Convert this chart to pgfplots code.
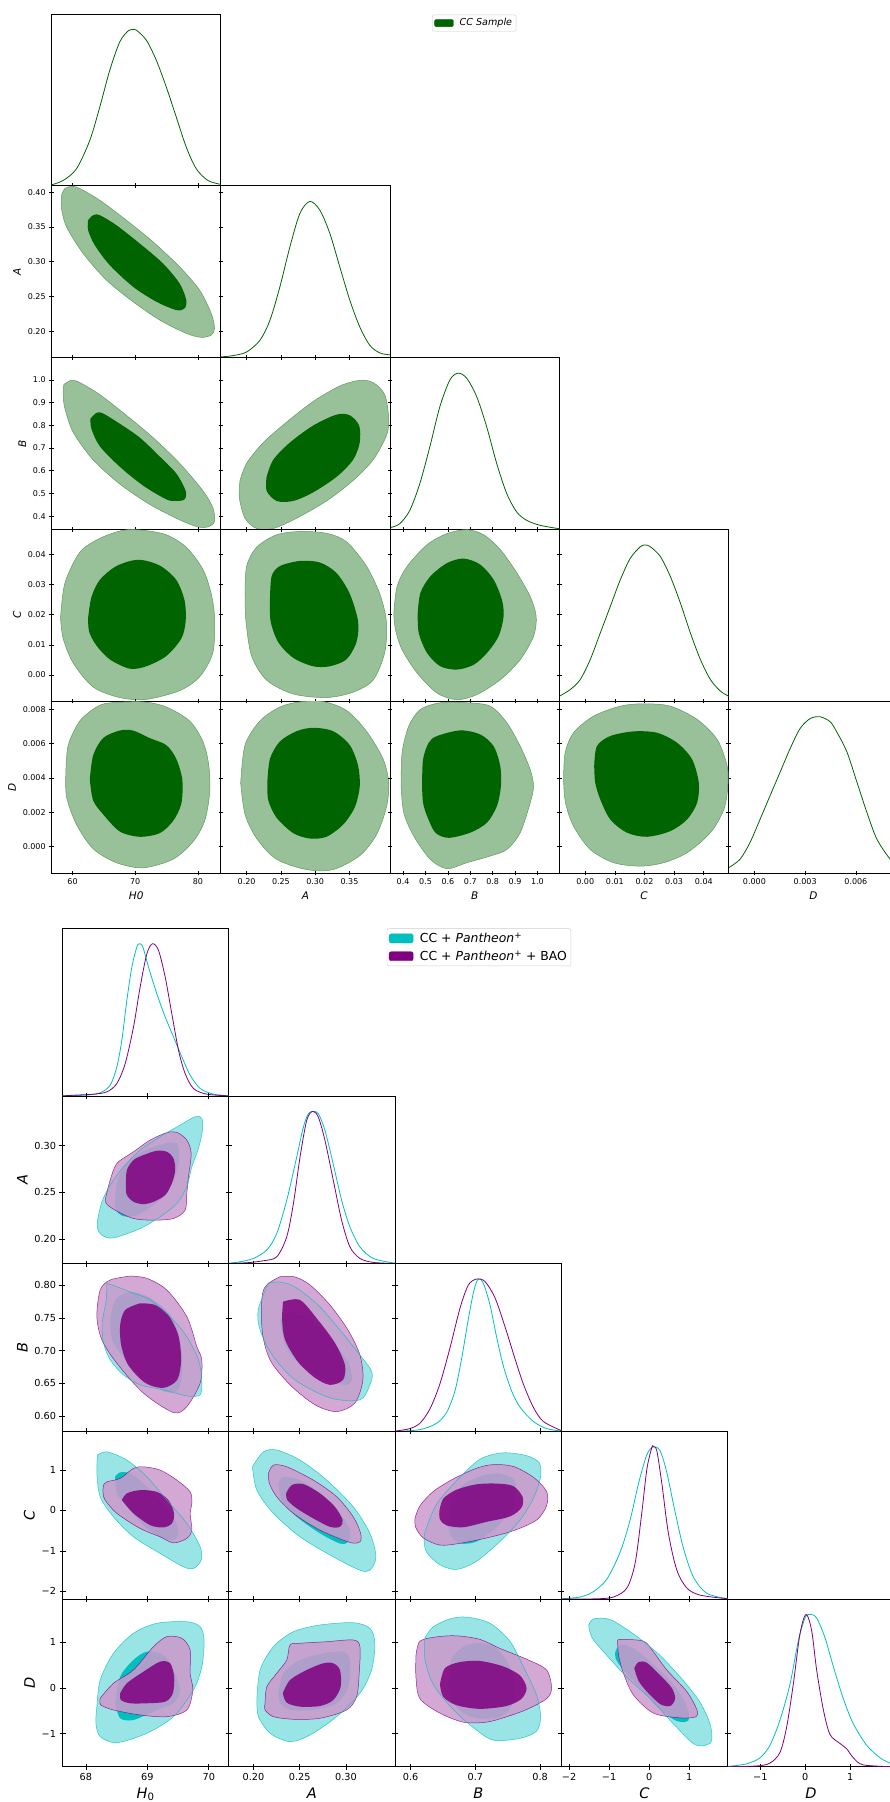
\documentclass[border=0pt]{standalone}
\usepackage{fontspec}
\setmainfont{DejaVu Sans}
\usepackage{pgfplots}
\pgfplotsset{compat=1.18}

\definecolor{gdark}{RGB}{0,100,0}
\definecolor{glight}{RGB}{153,193,153}
\definecolor{gedge}{RGB}{95,155,95}
\definecolor{cdark}{RGB}{0,191,191}
\definecolor{clight}{RGB}{153,229,229}
\definecolor{pdark}{RGB}{128,0,128}
\definecolor{plight}{RGB}{204,153,204}

% two-level filled contours of the single sample
\newcommand{\gcont}[2]{%
  \addplot[fill=glight, draw=gedge, line width=0.5pt, smooth] coordinates {#1} -- cycle;
  \addplot[fill=gdark, draw=none, smooth] coordinates {#2} -- cycle;}
% cyan outer, cyan inner, purple outer, purple inner
\newcommand{\pcont}[4]{%
  \addplot[fill=clight, draw=none, smooth] coordinates {#1} -- cycle;
  \addplot[fill=cdark, draw=none, smooth] coordinates {#2} -- cycle;
  \addplot[fill=plight, fill opacity=0.85, draw=pdark, draw opacity=0.8, line width=0.5pt, smooth] coordinates {#3} -- cycle;
  \addplot[fill=pdark, fill opacity=0.85, draw=none, smooth] coordinates {#4} -- cycle;
  \addplot[draw=cdark, draw opacity=0.8, line width=0.5pt, smooth] coordinates {#1} -- cycle;}

\pgfplotsset{
  panel/.style={scale only axis, anchor=north west, tick align=center,
    axis line style={line width=0.8pt, black}, tick style={black, line width=0.7pt},
    no markers, scaled ticks=false, xticklabels={}, yticklabels={}, clip=true},
  tp/.style={panel, width=169.3pt, height=171.8pt, major tick length=4.6pt,
    tick label style={font=\fontsize{8}{9.6}\selectfont},
    label style={font=\fontsize{10.5}{12.6}\selectfont\itshape}},
  bp/.style={panel, width=166.3pt, height=167.65pt, major tick length=6pt,
    tick label style={font=\fontsize{9.7}{11.6}\selectfont},
    label style={font=\fontsize{14.5}{17}\selectfont\itshape}},
  onedim/.style={ymin=0, ymax=1.1, ytick=\empty, xtick pos=left},
  % upper triangle parameters
  txH/.style={xmin=56.65, xmax=83.65, xtick={60,70,80}},
  txHl/.style={txH, xticklabels={60,70,80}, xlabel={H0}},
  txA/.style={xmin=0.1623, xmax=0.4093, xtick={0.20,0.25,0.30,0.35}},
  txAl/.style={txA, xticklabels={0.20,0.25,0.30,0.35}, xlabel={A}},
  tyA/.style={ymin=0.1623, ymax=0.4093, ytick={0.20,0.25,0.30,0.35,0.40}},
  tyAl/.style={tyA, yticklabels={0.20,0.25,0.30,0.35,0.40}, ylabel={A}},
  txB/.style={xmin=0.342, xmax=1.098, xtick={0.4,0.5,0.6,0.7,0.8,0.9,1.0}},
  txBl/.style={txB, xticklabels={0.4,0.5,0.6,0.7,0.8,0.9,1.0}, xlabel={B}},
  tyB/.style={ymin=0.342, ymax=1.098, ytick={0.4,0.5,0.6,0.7,0.8,0.9,1.0}},
  tyBl/.style={tyB, yticklabels={0.4,0.5,0.6,0.7,0.8,0.9,1.0}, ylabel={B}},
  txC/.style={xmin=-0.0087, xmax=0.0484, xtick={0,0.01,0.02,0.03,0.04}},
  txCl/.style={txC, xticklabels={0.00,0.01,0.02,0.03,0.04}, xlabel={C}},
  tyC/.style={ymin=-0.0087, ymax=0.0484, ytick={0,0.01,0.02,0.03,0.04}},
  tyCl/.style={tyC, yticklabels={0.00,0.01,0.02,0.03,0.04}, ylabel={C}},
  txD/.style={xmin=-0.00152, xmax=0.00849, xtick={0,0.003,0.006}},
  txDl/.style={txD, xticklabels={0.000,0.003,0.006}, xlabel={D}},
  tyD/.style={ymin=-0.00153, ymax=0.00848, ytick={0,0.002,0.004,0.006,0.008}},
  tyDl/.style={tyD, yticklabels={0.000,0.002,0.004,0.006,0.008}, ylabel={D}},
  % lower triangle parameters
  bxH/.style={xmin=67.62, xmax=70.325, xtick={68,69,70}},
  bxHl/.style={bxH, xticklabels={68,69,70}, xlabel={H\textsubscript{\upshape 0}}},
  bxA/.style={xmin=0.1734, xmax=0.3531, xtick={0.20,0.25,0.30}},
  bxAl/.style={bxA, xticklabels={0.20,0.25,0.30}, xlabel={A}},
  byA/.style={ymin=0.1733, ymax=0.3532, ytick={0.20,0.25,0.30}},
  byAl/.style={byA, yticklabels={0.20,0.25,0.30}, ylabel={A}},
  bxB/.style={xmin=0.576, xmax=0.833, xtick={0.6,0.7,0.8}},
  bxBl/.style={bxB, xticklabels={0.6,0.7,0.8}, xlabel={B}},
  byB/.style={ymin=0.5763, ymax=0.8329, ytick={0.60,0.65,0.70,0.75,0.80}},
  byBl/.style={byB, yticklabels={0.60,0.65,0.70,0.75,0.80}, ylabel={B}},
  bxC/.style={xmin=-2.19, xmax=1.958, xtick={-2,-1,0,1}},
  bxCl/.style={bxC, xticklabels={−2,−1,0,1}, xlabel={C}},
  byC/.style={ymin=-2.193, ymax=1.953, ytick={-2,-1,0,1}},
  byCl/.style={byC, yticklabels={−2,−1,0,1}, ylabel={C}},
  bxD/.style={xmin=-1.724, xmax=1.971, xtick={-1,0,1}},
  bxDl/.style={bxD, xticklabels={−1,0,1}, xlabel={D}},
  byD/.style={ymin=-1.724, ymax=1.945, ytick={-1,0,1}},
  byDl/.style={byD, yticklabels={−1,0,1}, ylabel={D}},
}

\begin{document}
\begin{tikzpicture}
\useasboundingbox (0pt,0pt) rectangle (890pt,1802pt);
\clip (0pt,0pt) rectangle (890pt,1802pt);

%================ CC sample: one-dimensional marginals
\begin{axis}[tp, onedim, txH, at={(51.5pt,1788pt)},
  legend style={at={(2.248,0.996)}, anchor=north west, draw=black!20, rounded corners=2pt,
    font=\fontsize{9.6}{11.5}\selectfont\itshape, inner xsep=2pt, inner ysep=1.8pt},
  legend cell align=left,
  legend style={/tikz/every odd column/.append style={column sep=4pt}}]
\addplot[gdark, line width=0.8pt, smooth, forget plot] coordinates {(56.65,0.006) (58.51,0.034) (60.64,0.109) (62.76,0.291) (64.35,0.504) (65.94,0.739) (67.53,0.921) (68.86,0.991) (69.55,1.0) (70.19,0.996) (71.78,0.932) (73.37,0.803) (74.96,0.632) (76.55,0.440) (78.14,0.248) (79.73,0.109) (81.59,0.034) (83.65,0.009)};
\addlegendimage{legend image code/.code={\fill[gdark] (0pt,-3.6pt) rectangle (19pt,3.6pt);}}
\addlegendentry{CC Sample}
\end{axis}

\begin{axis}[tp, onedim, txA, at={(220.8pt,1616.2pt)}]
\addplot[gdark, line width=0.8pt, smooth] coordinates {(0.1623,0.004) (0.1806,0.013) (0.20,0.036) (0.2194,0.111) (0.234,0.239) (0.2485,0.453) (0.2631,0.709) (0.2777,0.923) (0.2922,1.0) (0.3068,0.944) (0.3214,0.795) (0.3359,0.581) (0.3505,0.368) (0.3650,0.197) (0.3796,0.079) (0.3942,0.030) (0.4093,0.017)};
\end{axis}

\begin{axis}[tp, onedim, txB, at={(390.1pt,1444.4pt)}]
\addplot[gdark, line width=0.8pt, smooth] coordinates {(0.342,0.011) (0.385,0.036) (0.430,0.122) (0.4747,0.293) (0.5195,0.529) (0.5643,0.786) (0.609,0.957) (0.646,1.0) (0.684,0.968) (0.7286,0.850) (0.7733,0.657) (0.818,0.422) (0.863,0.229) (0.9076,0.111) (0.952,0.058) (1.012,0.026) (1.098,0.004)};
\end{axis}

\begin{axis}[tp, onedim, txC, at={(559.4pt,1272.6pt)}]
\addplot[gdark, line width=0.8pt, smooth] coordinates {(-0.0087,0.032) (-0.00507,0.074) (-0.00169,0.138) (0.00169,0.266) (0.00507,0.436) (0.00845,0.606) (0.01183,0.777) (0.01521,0.915) (0.01859,0.989) (0.02028,1.0) (0.02197,0.989) (0.02535,0.926) (0.02873,0.798) (0.03211,0.628) (0.03549,0.436) (0.03887,0.266) (0.04225,0.138) (0.04563,0.064) (0.0484,0.032)};
\end{axis}

\begin{axis}[tp, onedim, txDl, at={(728.7pt,1100.8pt)}]
\addplot[gdark, line width=0.8pt, smooth] coordinates {(-0.00152,0.034) (-0.00085,0.088) (-0.00026,0.195) (0.00034,0.345) (0.00093,0.496) (0.00152,0.646) (0.00211,0.796) (0.0027,0.925) (0.0033,0.989) (0.00389,1.0) (0.00448,0.968) (0.00487,0.903) (0.00547,0.775) (0.00606,0.582) (0.00665,0.388) (0.00724,0.217) (0.00803,0.088) (0.0085,0.05)};
\end{axis}

%================ CC sample: joint contours
\begin{axis}[tp, txH, tyAl, at={(51.5pt,1616.2pt)}]
\gcont{(58.25,0.3957) (58.78,0.4053) (59.84,0.4086) (61.17,0.4053) (64.35,0.3885) (68.59,0.3598) (72.84,0.3287) (77.08,0.2928) (80.27,0.2593) (82.12,0.2258) (82.65,0.2043) (82.12,0.1947) (80.53,0.1914) (78.14,0.1971) (73.90,0.2163) (69.66,0.2426) (65.41,0.2737) (61.70,0.3120) (59.05,0.3502) (58.25,0.3766) (58.25,0.3957)}
{(62.49,0.3598) (63.29,0.3670) (64.35,0.3670) (67.0,0.3526) (70.72,0.3263) (74.43,0.2976) (77.08,0.2689) (78.14,0.2450) (77.88,0.2330) (76.55,0.2306) (73.37,0.2426) (69.66,0.2641) (65.94,0.2952) (63.55,0.3239) (62.49,0.3455) (62.49,0.3598)}
\end{axis}

\begin{axis}[tp, txH, tyBl, at={(51.5pt,1444.4pt)}]
\gcont{(58.62,0.980) (59.84,0.998) (61.17,0.988) (64.35,0.935) (68.59,0.844) (72.84,0.746) (77.08,0.633) (80.80,0.512) (82.39,0.437) (82.65,0.376) (81.59,0.353) (80.0,0.353) (77.08,0.384) (72.31,0.452) (67.53,0.542) (63.29,0.648) (60.11,0.769) (58.78,0.875) (58.51,0.935) (58.62,0.980)}
{(62.86,0.829) (63.82,0.855) (64.88,0.852) (67.53,0.807) (70.72,0.746) (73.90,0.663) (76.55,0.588) (78.04,0.512) (77.88,0.474) (76.55,0.467) (74.96,0.474) (71.25,0.535) (67.53,0.618) (64.35,0.708) (63.02,0.784) (62.86,0.829)}
\end{axis}

\begin{axis}[tp, txA, tyB, at={(220.8pt,1444.4pt)}]
\gcont{(0.1903,0.557) (0.20,0.633) (0.2243,0.724) (0.2583,0.814) (0.2971,0.905) (0.3359,0.973) (0.3650,0.998) (0.3845,0.988) (0.4015,0.935) (0.4073,0.829) (0.4039,0.754) (0.3845,0.648) (0.3553,0.557) (0.3165,0.467) (0.2728,0.391) (0.2388,0.346) (0.2146,0.346) (0.1976,0.391) (0.1893,0.482) (0.1903,0.557)}
{(0.2291,0.573) (0.2388,0.648) (0.2631,0.724) (0.2971,0.799) (0.3311,0.847) (0.3505,0.844) (0.3641,0.799) (0.3650,0.724) (0.3553,0.648) (0.3311,0.573) (0.2971,0.505) (0.2680,0.467) (0.2437,0.467) (0.2291,0.512) (0.2291,0.573)}
\end{axis}

\begin{axis}[tp, txH, tyCl, at={(51.5pt,1272.6pt)}]
\gcont{(58.09,0.0190) (58.78,0.0305) (61.17,0.0408) (64.35,0.0454) (68.06,0.0481) (71.25,0.0481) (74.96,0.0466) (78.14,0.0425) (80.80,0.0351) (82.12,0.0270) (82.65,0.0190) (82.39,0.0075) (80.27,-0.0006) (77.08,-0.0052) (71.78,-0.0081) (67.53,-0.0075) (63.29,-0.0040) (60.11,0.0040) (58.51,0.0121) (58.09,0.0190)}
{(62.49,0.0190) (63.02,0.0259) (64.35,0.0316) (67.0,0.0362) (70.45,0.0383) (73.90,0.0364) (76.55,0.0316) (77.88,0.0247) (78.04,0.0178) (77.35,0.0121) (74.96,0.0063) (71.78,0.0029) (69.12,0.0021) (65.94,0.0052) (63.82,0.0098) (62.65,0.0144) (62.49,0.0190)}
\end{axis}

\begin{axis}[tp, txA, tyC, at={(220.8pt,1272.6pt)}]
\gcont{(0.1976,0.0270) (0.20,0.0362) (0.2146,0.0425) (0.2437,0.0466) (0.2777,0.0477) (0.3165,0.0471) (0.3456,0.0443) (0.3748,0.0362) (0.3942,0.0270) (0.4039,0.0178) (0.4015,0.0075) (0.3845,-0.0017) (0.3553,-0.0057) (0.3165,-0.0075) (0.2680,-0.0063) (0.2291,-0.0017) (0.2073,0.0063) (0.1990,0.0178) (0.1976,0.0270)}
{(0.2340,0.0247) (0.2364,0.0328) (0.2485,0.0362) (0.2777,0.0379) (0.3068,0.0374) (0.3311,0.0339) (0.3505,0.0270) (0.3626,0.0178) (0.3602,0.0109) (0.3456,0.0052) (0.3214,0.0029) (0.2971,0.0029) (0.2680,0.0057) (0.2461,0.0109) (0.2350,0.0178) (0.2340,0.0247)}
\end{axis}

\begin{axis}[tp, txB, tyC, at={(390.1pt,1272.6pt)}]
\gcont{(0.3584,0.0206) (0.3733,0.0295) (0.4178,0.0361) (0.5070,0.0433) (0.5961,0.0470) (0.6853,0.0483) (0.7596,0.0466) (0.8339,0.0417) (0.9082,0.0339) (0.9676,0.0261) (0.9944,0.0195) (0.9825,0.0129) (0.9230,0.0051) (0.8339,-0.0016) (0.7299,-0.0065) (0.6407,-0.0082) (0.5516,-0.0060) (0.4624,0.0007) (0.3955,0.0084) (0.3658,0.0151) (0.3584,0.0206)}
{(0.4654,0.0206) (0.4773,0.0273) (0.5218,0.0328) (0.5961,0.0372) (0.6704,0.0387) (0.7447,0.0367) (0.8042,0.0317) (0.8413,0.0250) (0.8487,0.0195) (0.8265,0.0129) (0.7744,0.0073) (0.7150,0.0034) (0.6407,0.0018) (0.5664,0.0029) (0.5070,0.0073) (0.4698,0.0140) (0.4654,0.0206)}
\end{axis}

\begin{axis}[tp, txHl, tyDl, at={(51.5pt,1100.8pt)}]
\gcont{(58.94,0.00431) (59.31,0.00592) (61.17,0.00733) (63.82,0.00814) (65.94,0.00838) (71.25,0.00844) (74.96,0.00814) (78.67,0.00733) (80.80,0.00613) (81.75,0.00472) (81.86,0.00310) (81.06,0.00149) (79.20,0.00028) (76.02,-0.00073) (71.25,-0.00123) (67.0,-0.00093) (63.29,-0.00012) (60.64,0.00129) (59.05,0.00290) (58.94,0.00431)}
{(62.76,0.00391) (63.29,0.00532) (64.88,0.00633) (67.53,0.00677) (69.66,0.00677) (72.31,0.00633) (74.96,0.00592) (76.55,0.00512) (77.51,0.00391) (77.35,0.00250) (76.02,0.00149) (73.90,0.00079) (70.72,0.00058) (67.53,0.00089) (64.88,0.00189) (63.29,0.00270) (62.76,0.00391)}
\end{axis}

\begin{axis}[tp, txAl, tyD, at={(220.8pt,1100.8pt)}]
\gcont{(0.1913,0.00371) (0.1976,0.00592) (0.2194,0.00733) (0.2485,0.00814) (0.2777,0.00844) (0.3117,0.00846) (0.3456,0.00794) (0.3748,0.00673) (0.3990,0.00512) (0.4073,0.00371) (0.4039,0.00230) (0.3893,0.00069) (0.3650,-0.00052) (0.3262,-0.00133) (0.2874,-0.00133) (0.2437,-0.00073) (0.2146,0.00048) (0.1976,0.00189) (0.1913,0.00371)}
{(0.2301,0.00371) (0.2340,0.00512) (0.2485,0.00613) (0.2728,0.00673) (0.2971,0.00693) (0.3262,0.00673) (0.3505,0.00592) (0.3626,0.00472) (0.3650,0.00351) (0.3578,0.00230) (0.3408,0.00129) (0.3165,0.00058) (0.2922,0.00048) (0.2680,0.00079) (0.2437,0.00169) (0.2316,0.00270) (0.2301,0.00371)}
\end{axis}

\begin{axis}[tp, txBl, tyD, at={(390.1pt,1100.8pt)}]
\gcont{(0.3911,0.00353) (0.3955,0.00548) (0.4253,0.00703) (0.4773,0.00800) (0.5664,0.00839) (0.6853,0.00839) (0.7893,0.00819) (0.8636,0.00722) (0.9230,0.00586) (0.9676,0.00450) (0.9825,0.00353) (0.9676,0.00256) (0.9230,0.00082) (0.8636,-0.00016) (0.7893,-0.00054) (0.6853,-0.00093) (0.5961,-0.00128) (0.5218,-0.00074) (0.4475,0.00062) (0.4030,0.00198) (0.3911,0.00353)}
{(0.4847,0.00353) (0.4892,0.00509) (0.5144,0.00606) (0.5516,0.00645) (0.6556,0.00678) (0.7447,0.00654) (0.8042,0.00586) (0.8339,0.00470) (0.8369,0.00353) (0.8190,0.00237) (0.7744,0.00140) (0.7001,0.00082) (0.6036,0.00052) (0.5441,0.00082) (0.5070,0.00179) (0.4892,0.00256) (0.4847,0.00353)}
\end{axis}

\begin{axis}[tp, txCl, tyD, at={(559.4pt,1100.8pt)}]
\gcont{(-0.00732,0.00392) (-0.00676,0.00548) (-0.00394,0.00664) (0.00282,0.00761) (0.01183,0.00819) (0.01972,0.00833) (0.02873,0.00819) (0.03775,0.00742) (0.04451,0.00625) (0.04789,0.00470) (0.04811,0.00353) (0.04676,0.00217) (0.04225,0.00082) (0.03437,-0.00035) (0.02648,-0.00093) (0.01859,-0.00113) (0.00958,-0.00093) (0.00169,-0.00016) (-0.00394,0.00120) (-0.00665,0.00256) (-0.00732,0.00392)}
{(0.00304,0.00470) (0.00394,0.00586) (0.00845,0.00645) (0.01634,0.00672) (0.02423,0.00664) (0.03099,0.00606) (0.03606,0.00509) (0.03831,0.00373) (0.03775,0.00256) (0.03437,0.00159) (0.02873,0.00091) (0.02085,0.00058) (0.01408,0.00082) (0.00845,0.00159) (0.00507,0.00276) (0.00338,0.00373) (0.00304,0.00470)}
\end{axis}

%================ combined data sets: one-dimensional marginals
\begin{axis}[bp, onedim, bxH, at={(62.5pt,873.5pt)},
  legend style={at={(1.95,1.0)}, anchor=north west, draw=black!20, rounded corners=2pt,
    font=\fontsize{12.4}{14.8}\selectfont, inner xsep=2pt, inner ysep=2pt, row sep=2.6pt},
  legend cell align=left,
  legend style={/tikz/every odd column/.append style={column sep=4.6pt}}]
\addplot[cdark, line width=0.8pt, smooth, forget plot] coordinates {(67.62,0.002) (68.016,0.007) (68.233,0.022) (68.396,0.072) (68.504,0.192) (68.585,0.367) (68.667,0.629) (68.748,0.847) (68.829,0.978) (68.873,1.0) (68.927,0.978) (69.019,0.847) (69.154,0.672) (69.290,0.520) (69.425,0.389) (69.561,0.258) (69.696,0.138) (69.859,0.050) (70.076,0.013) (70.325,0.002)};
\addplot[pdark, line width=0.8pt, smooth, forget plot] coordinates {(67.62,0.002) (67.854,0.007) (68.125,0.013) (68.341,0.028) (68.504,0.083) (68.640,0.214) (68.775,0.454) (68.883,0.716) (68.992,0.934) (69.084,1.0) (69.182,0.956) (69.290,0.782) (69.398,0.541) (69.507,0.301) (69.615,0.148) (69.751,0.050) (69.967,0.013) (70.325,0.002)};
\addlegendimage{legend image code/.code={\fill[cdark] (0pt,-4.5pt) rectangle (24pt,4.5pt);}}
\addlegendentry{CC + \textit{Pantheon}\textsuperscript{+}}
\addlegendimage{legend image code/.code={\fill[pdark] (0pt,-4.5pt) rectangle (24pt,4.5pt);}}
\addlegendentry{CC + \textit{Pantheon}\textsuperscript{+}\ + BAO}
\end{axis}

\begin{axis}[bp, onedim, bxA, at={(228.8pt,705.85pt)}]
\addplot[cdark, line width=0.8pt, smooth] coordinates {(0.1734,0.004) (0.1856,0.013) (0.20,0.035) (0.2144,0.090) (0.2252,0.199) (0.2360,0.417) (0.2468,0.701) (0.2540,0.897) (0.2594,0.985) (0.2647,1.0) (0.2701,0.985) (0.2773,0.876) (0.2863,0.653) (0.2953,0.417) (0.3043,0.242) (0.3151,0.111) (0.3295,0.035) (0.3531,0.004)};
\addplot[pdark, line width=0.8pt, smooth] coordinates {(0.1734,0.002) (0.1928,0.007) (0.2108,0.020) (0.2252,0.046) (0.2360,0.177) (0.2432,0.395) (0.2504,0.701) (0.2576,0.941) (0.2640,1.0) (0.2701,0.963) (0.2773,0.810) (0.2863,0.548) (0.2953,0.286) (0.3043,0.111) (0.3151,0.035) (0.3295,0.009) (0.3531,0.002)};
\end{axis}

\begin{axis}[bp, onedim, bxB, at={(395.1pt,538.2pt)}]
\addplot[cdark, line width=0.8pt, smooth] coordinates {(0.576,0.0) (0.6144,0.012) (0.6402,0.054) (0.6556,0.125) (0.6685,0.266) (0.6788,0.478) (0.6891,0.736) (0.6978,0.925) (0.7045,1.0) (0.7123,0.972) (0.7226,0.831) (0.7329,0.619) (0.7432,0.431) (0.7560,0.266) (0.7689,0.160) (0.7895,0.066) (0.8101,0.019) (0.833,0.002)};
\addplot[pdark, line width=0.8pt, smooth] coordinates {(0.576,0.002) (0.5990,0.019) (0.6144,0.054) (0.6299,0.148) (0.6453,0.313) (0.6608,0.548) (0.6762,0.807) (0.6891,0.960) (0.7020,1.0) (0.7148,0.984) (0.7303,0.878) (0.7457,0.689) (0.7612,0.478) (0.7740,0.313) (0.7895,0.160) (0.8049,0.066) (0.833,0.005)};
\end{axis}

\begin{axis}[bp, onedim, bxC, at={(561.4pt,370.55pt)}]
\addplot[cdark, line width=0.8pt, smooth] coordinates {(-2.19,0.002) (-1.718,0.014) (-1.386,0.050) (-1.054,0.132) (-0.722,0.310) (-0.473,0.522) (-0.266,0.759) (-0.058,0.948) (0.108,1.0) (0.274,0.972) (0.440,0.830) (0.647,0.570) (0.855,0.333) (1.104,0.144) (1.436,0.038) (1.958,0.002)};
\addplot[pdark, line width=0.8pt, smooth] coordinates {(-2.19,0.0) (-1.303,0.002) (-0.888,0.014) (-0.556,0.073) (-0.349,0.239) (-0.183,0.570) (-0.058,0.853) (0.066,0.995) (0.108,1.0) (0.191,0.972) (0.315,0.759) (0.481,0.428) (0.689,0.191) (0.938,0.073) (1.270,0.026) (1.958,0.002)};
\end{axis}

\begin{axis}[bp, onedim, bxDl, at={(727.7pt,202.9pt)}]
\addplot[cdark, line width=0.8pt, smooth] coordinates {(-1.724,0.002) (-1.304,0.019) (-1.007,0.059) (-0.785,0.141) (-0.563,0.306) (-0.341,0.541) (-0.156,0.824) (-0.007,0.976) (0.104,1.0) (0.252,0.976) (0.437,0.847) (0.622,0.659) (0.844,0.447) (1.067,0.282) (1.363,0.141) (1.659,0.059) (1.881,0.024) (1.971,0.015)};
\addplot[pdark, line width=0.8pt, smooth] coordinates {(-1.724,0.0) (-1.081,0.005) (-0.785,0.024) (-0.563,0.094) (-0.415,0.259) (-0.267,0.541) (-0.119,0.871) (0.015,1.0) (0.141,0.894) (0.252,0.635) (0.4,0.376) (0.548,0.212) (0.770,0.153) (0.919,0.118) (1.067,0.059) (1.289,0.012) (1.971,0.0)};
\end{axis}

%================ combined data sets: joint contours
\begin{axis}[bp, bxH, byAl, at={(62.5pt,705.85pt)}]
\pcont{(68.190,0.2201) (68.260,0.2398) (68.396,0.2577) (68.612,0.2774) (68.883,0.2953) (69.209,0.3097) (69.534,0.3222) (69.778,0.3312) (69.886,0.3294) (69.897,0.3168) (69.832,0.2971) (69.724,0.2774) (69.642,0.2559) (69.480,0.2380) (69.209,0.2237) (68.883,0.2111) (68.450,0.2011) (68.260,0.2039) (68.190,0.2111) (68.190,0.2201)}
{(68.477,0.2416) (68.504,0.2595) (68.612,0.2774) (68.829,0.2900) (69.100,0.2989) (69.371,0.3036) (69.496,0.3007) (69.518,0.2864) (69.453,0.2667) (69.317,0.2487) (69.100,0.2362) (68.829,0.2254) (68.612,0.2244) (68.493,0.2308) (68.477,0.2416)}
{(68.325,0.2452) (68.396,0.2631) (68.504,0.2810) (68.775,0.2935) (69.046,0.3061) (69.317,0.3140) (69.480,0.3143) (69.642,0.3061) (69.713,0.2918) (69.669,0.2667) (69.642,0.2487) (69.615,0.2308) (69.425,0.2219) (69.100,0.2201) (68.775,0.2219) (68.477,0.2308) (68.331,0.2380) (68.325,0.2452)}
{(68.650,0.2559) (68.667,0.2738) (68.775,0.2846) (68.938,0.2900) (69.154,0.2946) (69.317,0.2935) (69.425,0.2864) (69.453,0.2738) (69.398,0.2595) (69.290,0.2470) (69.100,0.2398) (68.938,0.2373) (68.775,0.2398) (68.667,0.2470) (68.650,0.2559)}
\end{axis}

\begin{axis}[bp, bxH, byBl, at={(62.5pt,538.2pt)}]
\pcont{(68.342,0.8031) (68.504,0.7979) (68.775,0.7878) (69.046,0.7775) (69.371,0.7520) (69.643,0.7214) (69.832,0.6858) (69.886,0.6552) (69.859,0.6323) (69.643,0.6307) (69.263,0.6399) (68.883,0.6476) (68.612,0.6628) (68.396,0.6858) (68.287,0.7118) (68.266,0.7424) (68.331,0.7775) (68.342,0.8031)}
{(68.396,0.7469) (68.477,0.7775) (68.721,0.7898) (69.046,0.7806) (69.371,0.7546) (69.534,0.7164) (69.567,0.6705) (69.502,0.6399) (69.290,0.6369) (68.965,0.6552) (68.640,0.6858) (68.428,0.7164) (68.396,0.7469)}
{(68.721,0.8142) (68.992,0.8107) (69.317,0.7928) (69.643,0.7520) (69.805,0.7061) (69.886,0.6858) (69.859,0.6502) (69.643,0.6144) (69.425,0.6052) (68.937,0.6349) (68.504,0.6807) (68.261,0.7164) (68.179,0.7520) (68.233,0.7928) (68.396,0.8081) (68.721,0.8142)}
{(68.883,0.7725) (68.640,0.7622) (68.558,0.7393) (68.574,0.7087) (68.688,0.6781) (68.965,0.6506) (69.258,0.6430) (69.485,0.6552) (69.550,0.6858) (69.502,0.7240) (69.339,0.7546) (69.127,0.7699) (68.883,0.7725)}
\end{axis}

\begin{axis}[bp, bxA, byB, at={(228.8pt,538.2pt)}]
\pcont{(0.2159,0.8035) (0.2051,0.7622) (0.2072,0.7316) (0.2202,0.6934) (0.2450,0.6552) (0.2827,0.6277) (0.3151,0.6246) (0.3259,0.6476) (0.3280,0.6674) (0.3151,0.6934) (0.2935,0.7316) (0.2698,0.7699) (0.2450,0.7974) (0.2288,0.8050) (0.2159,0.8035)}
{(0.2288,0.7469) (0.2396,0.7592) (0.2612,0.7500) (0.2827,0.7194) (0.3022,0.6827) (0.3065,0.6552) (0.2989,0.6476) (0.2773,0.6552) (0.2504,0.6781) (0.2342,0.7087) (0.2288,0.7469)}
{(0.2288,0.8131) (0.2108,0.7928) (0.2094,0.7316) (0.2180,0.6858) (0.2396,0.6476) (0.2666,0.6170) (0.2900,0.6067) (0.3097,0.6200) (0.3183,0.6552) (0.3151,0.6934) (0.3022,0.7316) (0.2827,0.7699) (0.2612,0.8005) (0.2450,0.8127) (0.2288,0.8131)}
{(0.2320,0.7749) (0.2504,0.7775) (0.2698,0.7469) (0.2881,0.7118) (0.2989,0.6781) (0.2968,0.6552) (0.2827,0.6476) (0.2666,0.6583) (0.2482,0.6827) (0.2342,0.7164) (0.2310,0.7469) (0.2320,0.7749)}
\end{axis}

\begin{axis}[bp, bxH, byCl, at={(62.5pt,370.55pt)}]
\pcont{(68.189,1.369) (68.342,1.450) (68.667,1.245) (68.992,0.832) (69.317,0.255) (69.643,-0.322) (69.859,-0.901) (69.875,-1.230) (69.750,-1.436) (69.588,-1.396) (69.208,-1.064) (68.774,-0.653) (68.449,-0.158) (68.233,0.337) (68.179,0.916) (68.189,1.369)}
{(68.477,0.832) (68.558,0.941) (68.721,0.916) (68.937,0.668) (69.208,0.255) (69.425,-0.158) (69.506,-0.530) (69.425,-0.735) (69.208,-0.653) (68.937,-0.364) (68.667,0.089) (68.505,0.421) (68.477,0.832)}
{(68.287,0.626) (68.342,0.708) (68.558,0.792) (68.774,1.040) (68.937,1.079) (69.208,0.998) (69.480,0.750) (69.696,0.460) (69.724,0.173) (69.696,-0.074) (69.724,-0.488) (69.643,-0.693) (69.425,-0.802) (69.208,-0.653) (68.883,-0.446) (68.505,-0.074) (68.314,0.255) (68.277,0.460) (68.287,0.626)}
{(68.586,0.255) (68.667,0.421) (68.883,0.502) (69.155,0.460) (69.344,0.255) (69.436,-0.074) (69.399,-0.322) (69.262,-0.421) (69.046,-0.364) (68.774,-0.074) (68.586,0.255)}
\end{axis}

\begin{axis}[bp, bxA, byC, at={(228.8pt,370.55pt)}]
\pcont{(0.1989,1.079) (0.2108,1.450) (0.2252,1.493) (0.2504,1.245) (0.2792,0.750) (0.3079,0.089) (0.3259,-0.569) (0.3324,-1.149) (0.3259,-1.478) (0.3151,-1.478) (0.2863,-1.149) (0.2504,-0.653) (0.2216,-0.074) (0.2037,0.502) (0.1989,1.079)}
{(0.2270,0.668) (0.2324,0.832) (0.2504,0.750) (0.2720,0.421) (0.2935,-0.074) (0.3043,-0.488) (0.3025,-0.777) (0.2935,-0.817) (0.2720,-0.569) (0.2468,-0.158) (0.2306,0.255) (0.2270,0.668)}
{(0.2162,0.916) (0.2216,1.121) (0.2360,1.079) (0.2647,0.750) (0.2900,0.337) (0.3079,-0.158) (0.3159,-0.569) (0.3151,-0.777) (0.3043,-0.792) (0.2720,-0.488) (0.2432,-0.074) (0.2252,0.337) (0.2173,0.668) (0.2162,0.916)}
{(0.2353,0.421) (0.2414,0.626) (0.2539,0.651) (0.2720,0.421) (0.2881,0.089) (0.2964,-0.240) (0.2935,-0.406) (0.2827,-0.406) (0.2647,-0.198) (0.2468,0.050) (0.2367,0.255) (0.2353,0.421)}
\end{axis}

\begin{axis}[bp, bxB, byC, at={(395.1pt,370.55pt)}]
\pcont{(0.6247,-0.416) (0.6402,0.159) (0.6711,0.735) (0.7071,1.265) (0.7431,1.425) (0.7792,1.354) (0.7988,1.177) (0.8008,0.823) (0.7895,0.292) (0.7689,-0.239) (0.7380,-0.770) (0.7020,-1.257) (0.6711,-1.460) (0.6453,-1.345) (0.6247,-1.035) (0.6206,-0.681) (0.6247,-0.416)}
{(0.6582,-0.327) (0.6633,0.204) (0.6814,0.646) (0.7123,0.867) (0.7380,0.912) (0.7586,0.779) (0.7637,0.469) (0.7560,0.027) (0.7329,-0.416) (0.7020,-0.770) (0.6762,-0.814) (0.6608,-0.593) (0.6582,-0.327)}
{(0.6067,-0.195) (0.6144,0.115) (0.6350,0.469) (0.6659,0.779) (0.7020,1.044) (0.7277,1.133) (0.7586,1.088) (0.7895,0.823) (0.8101,0.469) (0.8101,0.115) (0.7946,-0.239) (0.7586,-0.504) (0.7174,-0.681) (0.6762,-0.814) (0.6453,-0.858) (0.6196,-0.681) (0.6077,-0.416) (0.6067,-0.195)}
{(0.6443,-0.018) (0.6505,0.292) (0.6711,0.513) (0.7020,0.646) (0.7329,0.664) (0.7586,0.602) (0.7730,0.336) (0.7715,0.071) (0.7535,-0.150) (0.7174,-0.283) (0.6814,-0.416) (0.6556,-0.372) (0.6453,-0.221) (0.6443,-0.018)}
\end{axis}

\begin{axis}[bp, bxHl, byDl, at={(62.5pt,202.9pt)}]
\pcont{(68.179,-0.409) (68.233,0.175) (68.449,0.759) (68.774,1.197) (69.155,1.416) (69.643,1.451) (69.859,1.341) (69.924,1.050) (69.887,0.466) (69.750,-0.044) (69.425,-0.628) (68.992,-0.991) (68.505,-1.197) (68.233,-1.066) (68.163,-0.772) (68.179,-0.409)}
{(68.477,-0.335) (68.558,0.247) (68.774,0.613) (68.992,0.794) (69.262,0.722) (69.425,0.394) (69.534,-0.044) (69.425,-0.335) (69.155,-0.481) (68.774,-0.700) (68.558,-0.663) (68.477,-0.335)}
{(68.233,-0.225) (68.449,0.103) (68.774,0.394) (69.100,0.904) (69.317,1.123) (69.561,1.088) (69.696,0.832) (69.696,0.322) (69.740,-0.044) (69.643,-0.481) (69.317,-0.628) (68.883,-0.591) (68.449,-0.481) (68.244,-0.372) (68.233,-0.225)}
{(68.558,-0.116) (68.667,0.103) (68.937,0.357) (69.208,0.576) (69.371,0.540) (69.436,0.247) (69.415,-0.116) (69.290,-0.300) (68.992,-0.335) (68.721,-0.335) (68.570,-0.263) (68.558,-0.116)}
\end{axis}

\begin{axis}[bp, bxAl, byD, at={(228.8pt,202.9pt)}]
\pcont{(0.2037,-0.263) (0.2072,0.394) (0.2216,0.904) (0.2432,1.232) (0.2720,1.379) (0.3079,1.429) (0.3259,1.306) (0.3313,0.978) (0.3277,0.394) (0.3151,-0.116) (0.2900,-0.628) (0.2612,-1.028) (0.2396,-1.175) (0.2180,-0.991) (0.2054,-0.628) (0.2037,-0.263)}
{(0.2270,-0.116) (0.2324,0.322) (0.2504,0.613) (0.2755,0.759) (0.2971,0.794) (0.3043,0.613) (0.3025,0.028) (0.2900,-0.335) (0.2647,-0.481) (0.2396,-0.481) (0.2288,-0.335) (0.2270,-0.116)}
{(0.2126,-0.335) (0.2145,0.028) (0.2252,0.322) (0.2360,0.613) (0.2396,0.941) (0.2504,0.978) (0.2792,1.013) (0.3079,1.050) (0.3151,0.904) (0.3143,0.322) (0.3115,-0.190) (0.3008,-0.481) (0.2720,-0.663) (0.2432,-0.685) (0.2216,-0.628) (0.2126,-0.481) (0.2126,-0.335)}
{(0.2317,-0.116) (0.2396,0.175) (0.2576,0.394) (0.2755,0.540) (0.2863,0.540) (0.2935,0.394) (0.2943,0.028) (0.2863,-0.263) (0.2720,-0.394) (0.2504,-0.409) (0.2360,-0.322) (0.2317,-0.116)}
\end{axis}

\begin{axis}[bp, bxBl, byD, at={(395.1pt,202.9pt)}]
\pcont{(0.6221,1.102) (0.6350,1.339) (0.6608,1.512) (0.6865,1.551) (0.7226,1.417) (0.7534,1.024) (0.7740,0.472) (0.7946,-0.157) (0.8008,-0.630) (0.7946,-0.945) (0.7689,-1.102) (0.7277,-1.142) (0.6968,-0.866) (0.6659,-0.472) (0.6350,0.079) (0.6221,0.630) (0.6221,1.102)}
{(0.6582,0.157) (0.6633,0.630) (0.6814,0.906) (0.7071,0.984) (0.7329,0.866) (0.7534,0.472) (0.7612,0.0) (0.7560,-0.394) (0.7380,-0.630) (0.7071,-0.669) (0.6814,-0.551) (0.6633,-0.276) (0.6582,0.157)}
{(0.6082,0.709) (0.6144,1.024) (0.6402,1.118) (0.6711,1.142) (0.7071,1.063) (0.7380,0.866) (0.7792,0.630) (0.8101,0.394) (0.8178,0.0) (0.8101,-0.236) (0.7792,-0.472) (0.7483,-0.630) (0.7174,-0.748) (0.6814,-0.748) (0.6453,-0.551) (0.6144,-0.236) (0.6082,0.236) (0.6082,0.709)}
{(0.6453,0.079) (0.6530,0.433) (0.6762,0.567) (0.7071,0.591) (0.7431,0.472) (0.7689,0.276) (0.7792,0.0) (0.7715,-0.236) (0.7483,-0.394) (0.7071,-0.457) (0.6711,-0.378) (0.6505,-0.197) (0.6453,0.079)}
\end{axis}

\begin{axis}[bp, bxCl, byD, at={(561.4pt,202.9pt)}]
\pcont{(-1.510,1.378) (-1.386,1.512) (-0.971,1.496) (-0.390,1.181) (0.274,0.709) (0.855,0.157) (1.270,-0.315) (1.519,-0.787) (1.560,-1.142) (1.394,-1.260) (1.104,-1.220) (0.606,-0.787) (0.025,-0.236) (-0.556,0.236) (-1.054,0.709) (-1.427,1.102) (-1.510,1.378)}
{(-0.846,0.787) (-0.722,0.945) (-0.390,0.866) (0.108,0.512) (0.606,0.079) (0.938,-0.394) (0.979,-0.709) (0.689,-0.724) (0.274,-0.472) (-0.224,0.0) (-0.639,0.394) (-0.830,0.630) (-0.846,0.787)}
{(-0.788,1.024) (-0.722,1.063) (-0.141,1.024) (0.108,0.787) (0.440,0.394) (0.938,-0.079) (1.187,-0.472) (1.170,-0.630) (0.772,-0.654) (0.108,-0.551) (-0.390,-0.157) (-0.639,0.315) (-0.763,0.709) (-0.788,1.024)}
{(-0.373,0.433) (-0.266,0.567) (-0.058,0.551) (0.274,0.276) (0.564,0.0) (0.647,-0.236) (0.523,-0.394) (0.274,-0.354) (-0.058,-0.079) (-0.266,0.157) (-0.373,0.433)}
\end{axis}

\end{tikzpicture}
\end{document}
